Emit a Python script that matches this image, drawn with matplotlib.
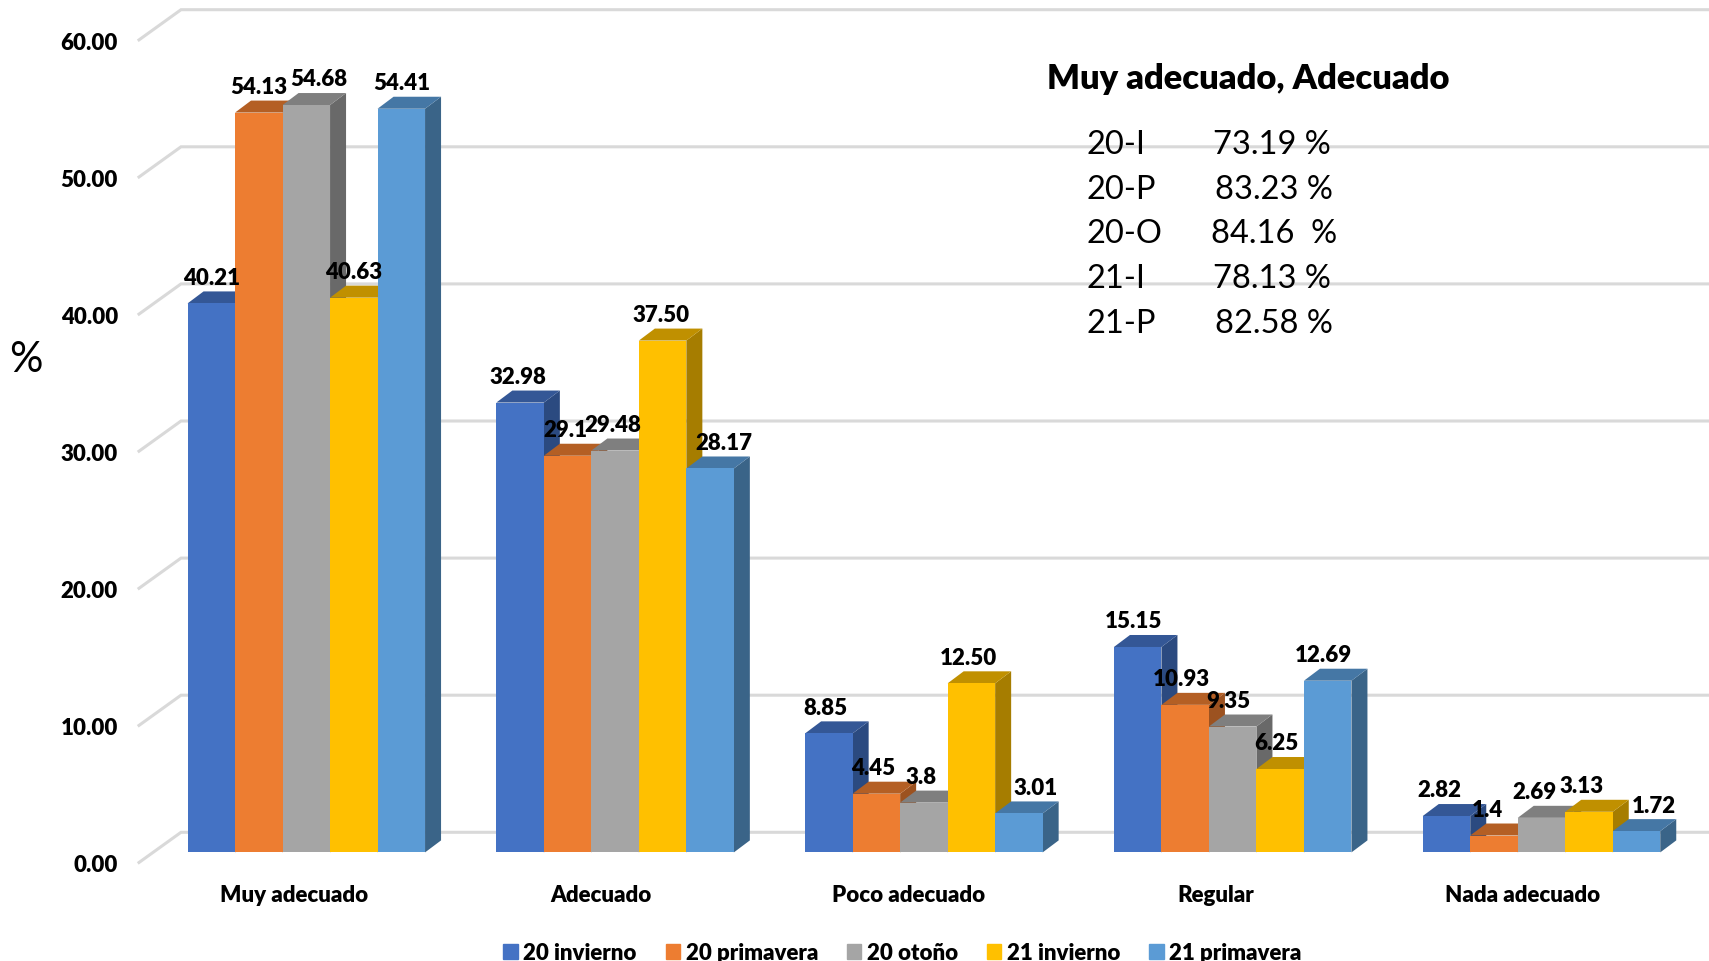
#!/usr/bin/env python3
"""Barras con falso 3D: porcentaje por categoría y periodo."""

import matplotlib
matplotlib.use("Agg")
import matplotlib.pyplot as plt
from matplotlib.patches import Patch, Polygon

W, H = 1709, 962

categories = ["Muy adecuado", "Adecuado", "Poco adecuado", "Regular", "Nada adecuado"]
series_names = ["20 invierno", "20 primavera", "20 otoño", "21 invierno", "21 primavera"]

invierno_20 = [40.21, 32.98, 8.85, 15.15, 2.82]
primavera_20 = [54.13, 29.1, 4.45, 10.93, 1.4]
otono_20 = [54.68, 29.48, 3.8, 9.35, 2.69]
invierno_21 = [40.63, 37.50, 12.50, 6.25, 3.13]
primavera_21 = [54.41, 28.17, 3.01, 12.69, 1.72]

y_ticks = [0, 10, 20, 30, 40, 50, 60]

summary_title = "Muy adecuado, Adecuado"
summary_periods = ["20-I", "20-P", "20-O", "21-I", "21-P"]
summary_values = ["73.19 %", "83.23 %", "84.16  %", "78.13 %", "82.58 %"]

series = [invierno_20, primavera_20, otono_20, invierno_21, primavera_21]

# colores: frente, tapa, lateral
front_colors = ["#4472C4", "#ED7D31", "#A5A5A5", "#FFC000", "#5B9BD5"]
top_colors = ["#345796", "#B45F24", "#7F7F7F", "#C09000", "#4577A5"]
side_colors = ["#2B4A80", "#9C5220", "#696969", "#A67D00", "#3A6488"]
GRID = "#D9D9D9"

# escala en píxeles de la imagen
PX_X = 308.8  # una categoría
PX_Y = 13.71  # una unidad de %
X0_PX = 306.3  # centro de la primera categoría
Y0_PX = 855.7  # donde caería el valor 0

bar_w = 47.5 / PX_X
depth_x = 16 / PX_X
depth_y = 12 / PX_Y
# el suelo corta las barras un poco por encima del 0
floor_y = (Y0_PX - 853.4) / PX_Y

TXT = 16
BOLD = 800

plt.rcParams["font.family"] = ["Lato", "DejaVu Sans"]

fig = plt.figure(figsize=(W / 100, H / 100), dpi=100)
ax = fig.add_axes([0, 0, 1, 1])
ax.set_xlim(-X0_PX / PX_X, (W - X0_PX) / PX_X)
ax.set_ylim((Y0_PX - H) / PX_Y, Y0_PX / PX_Y)
ax.axis("off")

# pared del fondo y líneas de rejilla
wall_front_x = (139 - X0_PX) / PX_X
wall_back_x = (181 - X0_PX) / PX_X
wall_front_y = (Y0_PX - 863.5) / PX_Y
wall_back_y = (Y0_PX - 833.3) / PX_Y
for v in y_ticks:
    ax.plot(
        [wall_front_x, wall_back_x, ax.get_xlim()[1]],
        [v + wall_front_y, v + wall_back_y, v + wall_back_y],
        color=GRID, lw=2.2, solid_joinstyle="miter", zorder=1,
    )
    ax.text(wall_front_x - 21 / PX_X, v + wall_front_y - 0.16, f"{v:.2f}",
            ha="right", va="center", fontsize=TXT, fontweight=BOLD, color="black")

# corrimiento horizontal de etiquetas, en píxeles
group_nudge = [0, -2, -3, -4, -7]
label_nudge = {(0, 2): 12, (1, 4): 16, (2, 4): 20, (4, 4): 24}

z = 2
for g in range(len(categories)):
    for s, values in enumerate(series):
        v = values[g]
        x0 = g + (s - 2.5) * bar_w
        x1 = x0 + bar_w
        side = [(x1, floor_y), (x1 + depth_x, floor_y + depth_y), (x1 + depth_x, v + depth_y), (x1, v)]
        top = [(x0, v), (x0 + depth_x, v + depth_y), (x1 + depth_x, v + depth_y), (x1, v)]
        ax.add_patch(Polygon(side, closed=True, fc=side_colors[s], ec="none", zorder=z))
        ax.add_patch(Polygon(top, closed=True, fc=top_colors[s], ec="none", zorder=z))
        ax.bar(x0, v - floor_y, bottom=floor_y, width=bar_w, align="edge",
               color=front_colors[s], zorder=z + 0.5)
        z += 1

        nudge = group_nudge[g] + label_nudge.get((g, s), 0)
        label = f"{v:.2f}"
        if v in (29.1, 3.8, 1.4):
            label = str(v)
        ax.text(x0 + bar_w / 2 + nudge / PX_X, v + 1.9, label, ha="center", va="center",
                fontsize=TXT, fontweight=BOLD, color="black", zorder=100)

# etiquetas de categoría
for g, name in enumerate(categories):
    ax.text(g * 0.9945 - 0.04, (Y0_PX - 896) / PX_Y, name, ha="center", va="center",
            fontsize=TXT, fontweight=BOLD, color="black")

# leyenda
handles = [Patch(color=c) for c in front_colors]
fig.legend(
    handles, series_names, loc="center", bbox_to_anchor=(902.5 / W, 1 - 954 / H), ncol=5,
    frameon=False, handlelength=0.65, handleheight=0.65, handletextpad=0.25,
    columnspacing=1.3, prop={"size": TXT, "weight": BOLD},
)

# unidad
fig.text(26 / W, 1 - 360 / H, "%", fontsize=30, ha="center", va="center", color="black")

# recuadro de texto
fig.text(1047 / W, 1 - 79 / H, summary_title, fontsize=24.8, fontweight=BOLD,
         ha="left", va="center", color="black")
summary_x = [1213, 1215, 1211, 1213, 1215]
for i, (per, val) in enumerate(zip(summary_periods, summary_values)):
    y = 145 + i * 44.7
    fig.text(1087 / W, 1 - y / H, per, fontsize=23.5, ha="left", va="center", color="black")
    fig.text(summary_x[i] / W, 1 - y / H, val, fontsize=23.5, ha="left", va="center", color="black")

fig.savefig("out.png", dpi=100)
plt.close(fig)
